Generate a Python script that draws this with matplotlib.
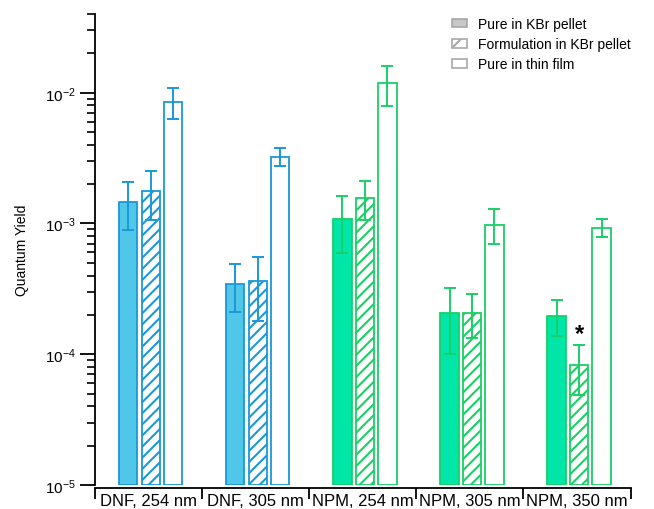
import matplotlib
matplotlib.use("Agg")
import matplotlib.pyplot as plt
from matplotlib.patches import Patch
import numpy as np

categories = ["DNF, 254 nm", "DNF, 305 nm", "NPM, 254 nm", "NPM, 305 nm", "NPM, 350 nm"]
series_names = ["Pure in KBr pellet", "Formulation in KBr pellet", "Pure in thin film"]

pure_kbr = [1.47e-3, 3.44e-4, 1.08e-3, 2.06e-4, 1.96e-4]
pure_kbr_lo = [8.97e-4, 2.10e-4, 5.99e-4, 1.00e-4, 1.39e-4]
pure_kbr_hi = [2.09e-3, 4.88e-4, 1.61e-3, 3.20e-4, 2.62e-4]

form_kbr = [1.77e-3, 3.66e-4, 1.57e-3, 2.06e-4, 8.28e-5]
form_kbr_lo = [1.07e-3, 1.80e-4, 1.07e-3, 1.33e-4, 4.88e-5]
form_kbr_hi = [2.51e-3, 5.58e-4, 2.11e-3, 2.88e-4, 1.18e-4]

film = [8.47e-3, 3.25e-3, 1.18e-2, 9.81e-4, 9.25e-4]
film_lo = [6.31e-3, 2.77e-3, 7.98e-3, 6.98e-4, 7.85e-4]
film_hi = [1.08e-2, 3.79e-3, 1.60e-2, 1.29e-3, 1.08e-3]

# compound per category -> colour
compound = ["DNF", "DNF", "NPM", "NPM", "NPM"]
EDGE = {"DNF": "#1a98d8", "NPM": "#18d066"}
FILL = {"DNF": "#50c6e8", "NPM": "#00e6a8"}

plt.rcParams["font.family"] = ["Liberation Sans", "DejaVu Sans"]
plt.rcParams["mathtext.fontset"] = "custom"
plt.rcParams["mathtext.rm"] = "Liberation Sans"
plt.rcParams["hatch.linewidth"] = 1.5

fig = plt.figure(figsize=(6.54, 5.10), dpi=100)
ax = fig.add_axes([95 / 654, 24 / 510, (630.5 - 95) / 654, (486 - 15) / 510])

BOTTOM = 1e-5
width = 0.171
pitch = 0.21
x = np.arange(len(categories)) + 0.52

series = [
    (pure_kbr, pure_kbr_lo, pure_kbr_hi, "filled"),
    (form_kbr, form_kbr_lo, form_kbr_hi, "hatched"),
    (film, film_lo, film_hi, "open"),
]

for k, (vals, lo, hi, kind) in enumerate(series):
    for i in range(len(categories)):
        c = compound[i]
        xi = x[i] + (k - 1) * pitch
        face = FILL[c] if kind == "filled" else "white"
        ax.bar(xi, vals[i] - BOTTOM, bottom=BOTTOM, width=width,
               facecolor=face, edgecolor=EDGE[c], linewidth=1.3,
               hatch="///" if kind == "hatched" else None, zorder=2)
        ax.errorbar(xi, vals[i], yerr=[[vals[i] - lo[i]], [hi[i] - vals[i]]],
                    fmt="none", ecolor=EDGE[c], elinewidth=1.4, capsize=4,
                    capthick=1.4, zorder=3)

# significance marker on NPM, 350 nm formulation
ax.text(x[4], form_kbr_hi[4] * 1.22, "*", ha="center", va="center",
        fontsize=17, fontweight="bold", color="black")

ax.set_yscale("log")
ax.set_ylim(1e-5, 4e-2)
ax.set_xlim(0, len(categories))
ax.set_yticks([1e-5, 1e-4, 1e-3, 1e-2])
ax.set_yticklabels([r"$\mathregular{10^{-5}}$", r"$\mathregular{10^{-4}}$",
                    r"$\mathregular{10^{-3}}$", r"$\mathregular{10^{-2}}$"])
ax.set_ylabel("Quantum Yield", fontsize=10, labelpad=11)

ax.set_xticks(np.arange(len(categories) + 1))
ax.set_xticklabels([])
ax.set_xticks(np.arange(len(categories)) + 0.5, minor=True)
ax.set_xticklabels(categories, minor=True)
ax.tick_params(axis="x", which="major", direction="out", length=8, width=1.3)
ax.tick_params(axis="x", which="minor", length=0, pad=4, labelsize=12)
ax.tick_params(axis="y", which="major", direction="out", length=11, width=1.3,
               labelsize=11, pad=3)
ax.tick_params(axis="y", which="minor", direction="out", length=5.5, width=1.2)

for s in ["top", "right"]:
    ax.spines[s].set_visible(False)
for s in ["left", "bottom"]:
    ax.spines[s].set_linewidth(1.3)
ax.spines["bottom"].set_position(("outward", 2))

handles = [
    Patch(facecolor="#c8c8c8", edgecolor="#a8a8a8", linewidth=1.2),
    Patch(facecolor="white", edgecolor="#a8a8a8", linewidth=1.2, hatch="/"),
    Patch(facecolor="white", edgecolor="#a8a8a8", linewidth=1.2),
]
fig.legend(handles, series_names, loc="upper left",
           bbox_to_anchor=(445 / 654, 499 / 510), frameon=False, fontsize=10,
           borderpad=0, handlelength=1.1, handleheight=0.6,
           handletextpad=0.75, labelspacing=0.45)

fig.savefig("out.png", dpi=100)
